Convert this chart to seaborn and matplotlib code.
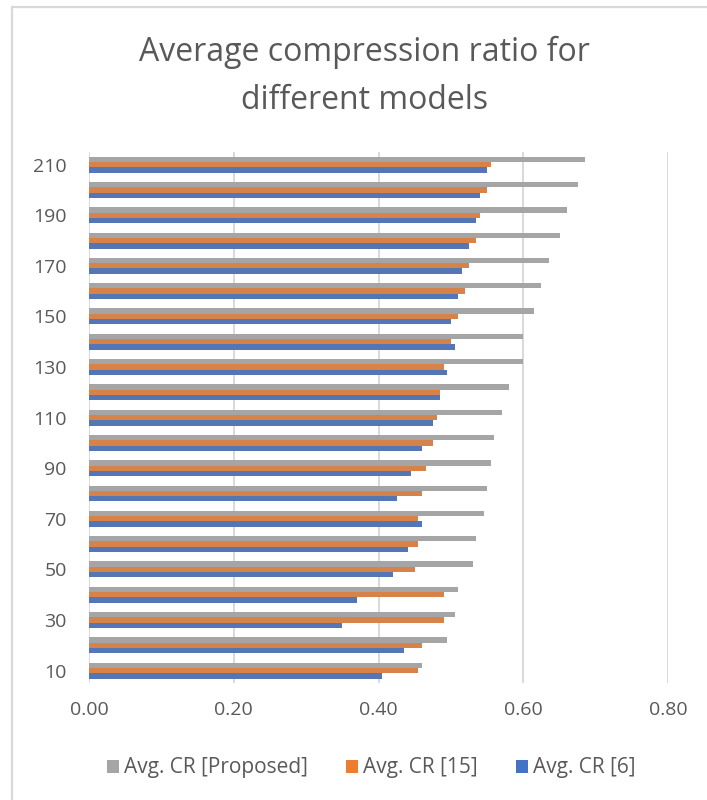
import matplotlib
matplotlib.use("Agg")
import matplotlib.pyplot as plt
from matplotlib.patches import Rectangle
from matplotlib.lines import Line2D
import seaborn as sns
import pandas as pd

# Block sizes (category axis), listed top to bottom
sizes = [210, 200, 190, 180, 170, 160, 150, 140, 130, 120, 110,
         100, 90, 80, 70, 60, 50, 40, 30, 20, 10]

cr_proposed = [0.685, 0.675, 0.660, 0.650, 0.635, 0.625, 0.615, 0.600, 0.600, 0.580, 0.570,
               0.560, 0.555, 0.550, 0.545, 0.535, 0.530, 0.510, 0.505, 0.495, 0.460]
cr_15 = [0.555, 0.550, 0.540, 0.535, 0.525, 0.520, 0.510, 0.500, 0.490, 0.485, 0.480,
         0.475, 0.465, 0.460, 0.455, 0.455, 0.450, 0.490, 0.490, 0.460, 0.455]
cr_6 = [0.550, 0.540, 0.535, 0.525, 0.515, 0.510, 0.500, 0.505, 0.495, 0.485, 0.475,
        0.460, 0.445, 0.425, 0.460, 0.440, 0.420, 0.370, 0.350, 0.435, 0.405]

series_names = ["Avg. CR [Proposed]", "Avg. CR [15]", "Avg. CR [6]"]
series_colors = ["#A5A5A5", "#ED7D31", "#4472C4"]
x_ticks = [0.0, 0.2, 0.4, 0.6, 0.8]

rows = []
for name, vals in zip(series_names, [cr_proposed, cr_15, cr_6]):
    for s, v in zip(sizes, vals):
        rows.append({"size": str(s), "model": name, "cr": v})
df = pd.DataFrame(rows)

sns.set_theme(style="white")
plt.rcParams["font.family"] = ["Open Sans", "DejaVu Sans"]
text_color = "#595959"
grid_color = "#D9D9D9"

fig = plt.figure(figsize=(7.07, 8.0), dpi=100)
ax = fig.add_axes([0.126, 0.146, 0.819, 0.664])

sns.barplot(data=df, x="cr", y="size", hue="model", orient="h",
            order=[str(s) for s in sizes], hue_order=series_names,
            palette=series_colors, width=0.63, errorbar=None,
            edgecolor="none", ax=ax)

ax.set_xlim(0, 0.8)
ax.set_xticks(x_ticks)
ax.set_xticklabels([f"{t:.2f}" for t in x_ticks], fontsize=14, color=text_color)

label_idx = [i for i, s in enumerate(sizes) if (s // 10) % 2 == 1]
ax.set_yticks(label_idx)
ax.set_yticklabels([str(sizes[i]) for i in label_idx], fontsize=14, color=text_color)
ax.set_ylim(len(sizes) - 0.5, -0.5)

ax.tick_params(axis="x", length=0, pad=13)
ax.tick_params(axis="y", length=0, pad=16)
ax.set_xlabel("")
ax.set_ylabel("")
for sp in ax.spines.values():
    sp.set_visible(False)
ax.grid(axis="x", color=grid_color, linewidth=1.4)
ax.set_axisbelow(True)

fig.text(0.515, 0.905, "Average compression ratio for\ndifferent models",
         ha="center", va="center", fontsize=23, color=text_color, linespacing=1.6)

ax.legend_.remove()
handles = [Rectangle((0, 0), 1, 1, facecolor=c, edgecolor="none") for c in series_colors]
fig.legend(handles, series_names, loc="center", bbox_to_anchor=(0.525, 0.04),
           ncol=3, frameon=False, fontsize=15, labelcolor=text_color,
           handlelength=0.6, handleheight=0.6, handletextpad=0.25, columnspacing=1.8)

# chart-area frame (top and left edges)
W, H = 707.0, 800.0
fig.add_artist(Line2D([12 / W, 1.0], [1 - 7 / H, 1 - 7 / H], transform=fig.transFigure,
                      color=grid_color, linewidth=1.6))
fig.add_artist(Line2D([12 / W, 12 / W], [0.0, 1 - 7 / H], transform=fig.transFigure,
                      color=grid_color, linewidth=1.6))

fig.savefig("out.png", dpi=100)
